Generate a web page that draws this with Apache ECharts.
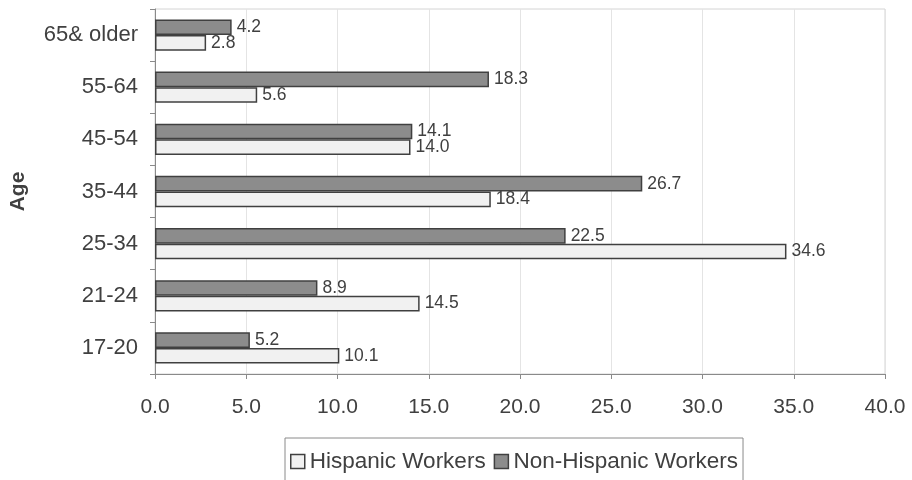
<!DOCTYPE html>
<html>
<head>
<meta charset="utf-8">
<script src="https://cdn.jsdelivr.net/npm/echarts@6/dist/echarts.min.js"></script>
<style>html,body{margin:0;padding:0;background:#fff}#c{width:912px;height:480px}</style>
</head>
<body>
<div id="c"></div>
<script>
const categories = ['17-20', '21-24', '25-34', '35-44', '45-54', '55-64', '65& older'];
const hispanic = [10.1, 14.5, 34.6, 18.4, 14.0, 5.6, 2.8];
const nonHispanic = [5.2, 8.9, 22.5, 26.7, 14.1, 18.3, 4.2];
const xTicks = [0, 5, 10, 15, 20, 25, 30, 35, 40];

const FONT = 'Liberation Sans';
const TXT = '#404040';
const chart = echarts.init(document.getElementById('c'), null, {renderer: 'canvas'});
const lbl = {show: true, position: 'right', distance: 5, color: TXT, fontFamily: FONT, fontSize: 17.5,
  formatter: p => Number(p.value).toFixed(1)};
chart.setOption({
  animation: false,
  backgroundColor: '#fff',
  textStyle: {fontFamily: FONT},
  grid: {left: 155, right: 27, top: 9, bottom: 106, show: true, borderColor: '#d4d4d4', borderWidth: 1},
  legend: {
    data: ['Hispanic Workers', 'Non-Hispanic Workers'],
    left: 285, top: 438,
    padding: [12, 5, 10, 5],
    itemGap: 8, itemWidth: 14, itemHeight: 14,
    icon: 'rect',
    borderColor: '#8a8a8a', borderWidth: 1,
    itemStyle: {borderWidth: 1.5, borderColor: '#404040'},
    textStyle: {color: TXT, fontFamily: FONT, fontSize: 22.5}
  },
  xAxis: {
    type: 'value', min: xTicks[0], max: xTicks[xTicks.length - 1], interval: 5,
    axisLine: {show: true, lineStyle: {color: '#8a8a8a', width: 1}},
    axisTick: {show: true, length: 5, lineStyle: {color: '#8a8a8a'}},
    axisLabel: {color: TXT, fontFamily: FONT, fontSize: 21, margin: 23, formatter: v => v.toFixed(1)},
    splitLine: {show: true, lineStyle: {color: '#e4e4e4', width: 1}}
  },
  yAxis: {
    type: 'category', data: categories,
    name: 'Age', nameLocation: 'middle', nameGap: 126,
    nameTextStyle: {color: TXT, fontFamily: FONT, fontSize: 21, fontWeight: 'bold'},
    axisLine: {show: true, lineStyle: {color: '#8a8a8a', width: 1}},
    axisTick: {show: true, length: 5, lineStyle: {color: '#8a8a8a'}},
    axisLabel: {color: TXT, fontFamily: FONT, fontSize: 22, margin: 17}
  },
  series: [
    {name: 'Non-Hispanic Workers', type: 'bar', data: nonHispanic, barCategoryGap: '40%', barGap: '0%',
      itemStyle: {color: '#8c8c8c', borderColor: '#404040', borderWidth: 1.5}, label: lbl},
    {name: 'Hispanic Workers', type: 'bar', data: hispanic, barCategoryGap: '40%', barGap: '0%',
      itemStyle: {color: '#f1f1f1', borderColor: '#404040', borderWidth: 1.5}, label: lbl}
  ]
});
</script>
</body>
</html>
